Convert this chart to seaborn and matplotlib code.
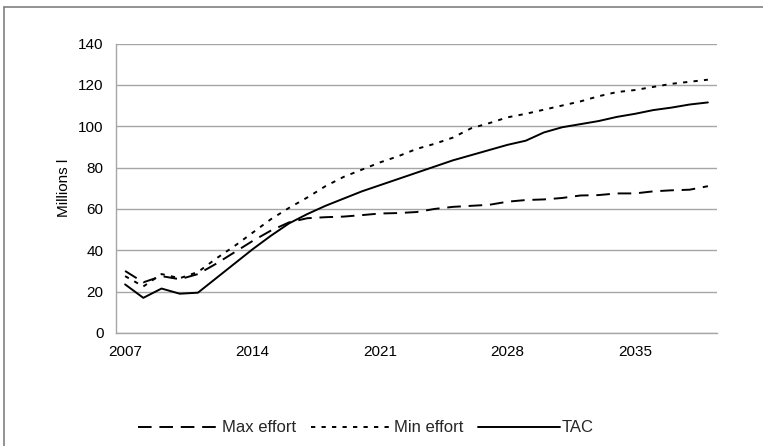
import matplotlib
matplotlib.use("Agg")
import matplotlib.pyplot as plt
import seaborn as sns
import pandas as pd
from matplotlib.lines import Line2D

years = list(range(2007, 2040))
max_effort = [30, 24.5, 27.5, 26, 28.5, 33.5, 39, 44.5, 49.5, 53.5, 55.5, 56, 56.3, 57, 57.8, 58, 58.5, 60,
              61, 61.5, 62, 63.5, 64.3, 64.6, 65.3, 66.5, 66.7, 67.5, 67.5, 68.5, 69, 69.3, 71]
min_effort = [27.5, 22.5, 28.5, 26.5, 29.5, 36, 42, 48.5, 55, 60.5, 65.5, 71, 75.5, 79, 82.5, 85.5, 89, 91.5,
              94.5, 99, 101.5, 104.3, 106, 108, 110, 112, 114.5, 116.5, 117.5, 119, 120.5, 121.5, 122.5]
tac = [23.5, 17, 21.5, 19, 19.5, 26.5, 33.5, 40.5, 47, 53, 57.5, 61.5, 65, 68.5, 71.5, 74.5, 77.5, 80.5,
       83.5, 86, 88.5, 91, 93, 97, 99.5, 101, 102.5, 104.5, 106, 107.8, 109, 110.5, 111.5]
series_names = ["Max effort", "Min effort", "TAC"]
tick_years = [2007, 2014, 2021, 2028, 2035]
y_ticks = [0, 20, 40, 60, 80, 100, 120, 140]

df = pd.DataFrame({"Year": years, "Max effort": max_effort, "Min effort": min_effort, "TAC": tac})
long_df = df.melt(id_vars="Year", var_name="Series", value_name="Value")

sns.set_theme(style="white")
plt.rcParams["font.family"] = ["Liberation Sans", "DejaVu Sans"]

W, H = 763, 446
fig = plt.figure(figsize=(W / 100, H / 100), dpi=100)
ax = fig.add_axes([116 / W, 1 - 333 / H, (717 - 116) / W, (333 - 43.5) / H])

lw = 1.4
dash_max = (7.0, 4.0)
dash_min = (2.2, 3.2)
sns.lineplot(data=long_df, x="Year", y="Value", hue="Series", style="Series",
             hue_order=series_names, style_order=series_names,
             palette=["black", "black", "black"],
             dashes={"Max effort": dash_max, "Min effort": dash_min, "TAC": ""},
             linewidth=lw, ax=ax, legend=False)

ax.set_xlim(years[0] - 0.5, years[-1] + 0.5)
ax.set_ylim(0, 140)
ax.set_yticks(y_ticks)
ax.set_xticks(tick_years)
ax.set_xticklabels([str(t) for t in tick_years], fontsize=11, color="black")
ax.set_yticklabels([str(t) for t in y_ticks], fontsize=11, color="black")
ax.tick_params(axis="both", length=0, pad=9)
ax.set_xlabel("")
ax.set_ylabel("Millions l", fontsize=11, color="black", labelpad=5)

ax.grid(axis="y", color="#a6a6a6", linewidth=1.0)
ax.grid(axis="x", visible=False)
for s in ["top", "right"]:
    ax.spines[s].set_visible(False)
for s in ["left", "bottom"]:
    ax.spines[s].set_color("#a6a6a6")
    ax.spines[s].set_linewidth(1.0)

handles = [Line2D([], [], color="black", lw=lw, dashes=dash_max),
           Line2D([], [], color="black", lw=lw, dashes=dash_min),
           Line2D([], [], color="black", lw=lw)]
fig.legend(handles, series_names, loc="center", bbox_to_anchor=(366 / W, 1 - 428 / H),
           ncol=3, frameon=False, fontsize=12, handlelength=4.9, handletextpad=0.1,
           columnspacing=0.9)

# chart frame (left and top edges visible in crop)
fig.add_artist(Line2D([3.5 / W, 3.5 / W], [0, 1 - 7 / H], transform=fig.transFigure,
                      color="#808080", lw=1.2))
fig.add_artist(Line2D([3.5 / W, 1.0], [1 - 7 / H, 1 - 7 / H], transform=fig.transFigure,
                      color="#808080", lw=1.2))

fig.savefig("out.png", dpi=100)
